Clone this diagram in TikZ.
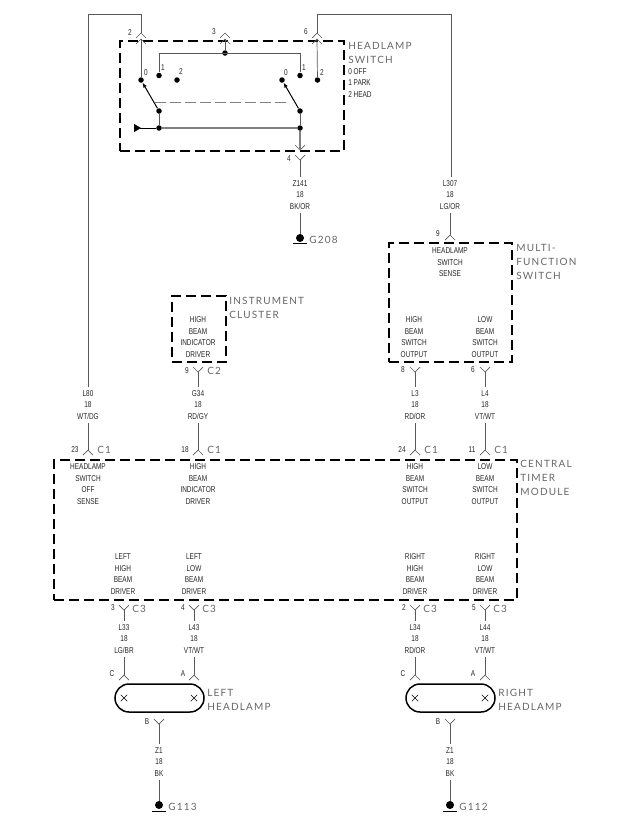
\documentclass[tikz,border=0pt]{standalone}
\usepackage{fontspec}
\setmainfont{Liberation Sans}[FakeStretch=0.76]
\newfontfamily\namefont{Lato}[LetterSpace=12]
\usetikzlibrary{shapes.misc,arrows.meta}
\begin{document}
\begin{tikzpicture}[x=1pt,y=-1pt,line width=0.6pt,
                    box/.style={draw,line width=1.5pt,dash pattern=on 10pt off 5pt,inner sep=0pt},
                    wire/.style={gray!70!black,line width=0.7pt},
                    bar/.style={gray,line width=1.5pt},
                    dot/.style={circle,fill=black,inner sep=0pt,minimum size=5.5pt},
                    txt/.style={align=center,inner sep=3.5pt,text=black!85,font=\fontsize{8.5}{11.5}\selectfont},
                    title/.style={align=left,anchor=north west,inner sep=0pt,text=black!60,font=\namefont\fontsize{10}{14.2}\selectfont},
                    lamp/.style={draw,line width=1.5pt,rounded corners=14pt,minimum width=89pt,minimum height=28pt,inner sep=0pt},
                    xmark/.style={draw,cross out,line width=0.5pt,inner sep=0pt,minimum size=6pt},
                    gnd/.style={circle,fill=black,inner sep=0pt,minimum size=8pt},
                    up/.pic={\draw[wire] (-5,5) -- (0,0) -- (5,5);},
                    down/.pic={\draw[wire] (-5,-5) -- (0,0) -- (5,-5);}]

          \path[use as bounding box] (0,0) rectangle (640,838);

          % boxes
          \node[box,minimum width=224pt,minimum height=110pt] (switchbox) at (232,96) {};
          \node[box,minimum width=123pt,minimum height=119pt] (multibox) at (450.5,302.5) {};
          \node[box,minimum width=54pt,minimum height=66pt] (clusterbox) at (199,329) {};
          \node[box,minimum width=463pt,minimum height=140pt] (timerbox) at (285.5,530) {};
          \node[lamp] (leftlamp) at (159.5,698) {};
          \node[lamp] (rightlamp) at (450.5,698) {};
          \node[xmark] (lx1) at (124,698) {};
          \node[xmark] (lx2) at (194,698) {};
          \node[xmark] (rx1) at (415,698) {};
          \node[xmark] (rx2) at (485,698) {};

          % box names
          \node[title] (n1) at (348,42) {HEADLAMP\\SWITCH};
          \node[txt,align=left,anchor=north west,inner sep=0pt] (n1b) at (348,68) {0 OFF\\1 PARK\\2 HEAD};
          \node[title] (n2) at (516,244) {MULTI-\\FUNCTION\\SWITCH};
          \node[title] (n3) at (229,297) {INSTRUMENT\\CLUSTER};
          \node[title] (n4) at (520,460) {CENTRAL\\TIMER\\MODULE};
          \node[title] (n5) at (207,689) {LEFT\\HEADLAMP};
          \node[title] (n6) at (498,689) {RIGHT\\HEADLAMP};

          % switch contacts
          \node[dot] (a0) at (141,80) {};
          \node[dot] (a1) at (159,75.5) {};
          \node[dot] (a2) at (177,80) {};
          \node[dot] (b0) at (282,80) {};
          \node[dot] (b1) at (300,75.5) {};
          \node[dot] (b2) at (317.5,80) {};
          \node[dot] (am) at (159,111) {};
          \node[dot] (bm) at (300,111) {};
          \node[dot] (al) at (159,128) {};
          \node[dot] (bl) at (300,128) {};
          \node[dot] (top) at (225,53) {};
          \coordinate (tl) at (159,53);
          \coordinate (tr) at (300,53);
          \coordinate (gang1) at (155,102);
          \coordinate (gang2) at (287,102);
          \coordinate (feed) at (134,128);

          \draw[wire] (a1) -- (tl) -- (tr) -- (b1);
          \draw[wire] (am) -- (al);
          \draw[wire] (bm) -- (bl);
          \draw[bar] (al) -- (bl);
          \draw[line width=1pt,-{Latex[length=5pt,width=4pt]}] (am) -- (a0);
          \draw[line width=1pt,-{Latex[length=5pt,width=4pt]}] (bm) -- (b0);
          \draw[gray,line width=0.6pt,dash pattern=on 11pt off 4pt] (gang1) -- (gang2);
          \draw[line width=0.8pt,{Triangle[reversed,length=7pt,width=8pt]}-] (feed) -- (al);

          \node[txt,inner sep=0pt] (t0a) at (146,73) {0};
          \node[txt,inner sep=0pt] (t1a) at (163,68) {1};
          \node[txt,inner sep=0pt] (t2a) at (181,72) {2};
          \node[txt,inner sep=0pt] (t0b) at (286,73) {0};
          \node[txt,inner sep=0pt] (t1b) at (304,68) {1};
          \node[txt,inner sep=0pt] (t2b) at (322,73) {2};

          % switch pins
          \coordinate (p2o) at (141,33);
          \coordinate (p2i) at (141,39);
          \coordinate (p3o) at (225,33);
          \coordinate (p3i) at (225,39);
          \coordinate (p6o) at (317,33);
          \coordinate (p6i) at (317,39);
          \coordinate (p4i) at (300,150);
          \coordinate (p4o) at (300,160);
          \pic at (p2o) {up}; \pic at (p2i) {up};
          \pic at (p3o) {up}; \pic at (p3i) {up};
          \pic at (p6o) {up}; \pic at (p6i) {up};
          \pic at (p4i) {down}; \pic at (p4o) {down};
          \draw[wire] (p2i) -- (a0);
          \draw[wire] (p3i) -- (top);
          \draw[wire] (p6i) -- (b2);
          \draw[bar] (bl) -- (p4i);
          \node[txt,inner sep=0pt] (t2) at (130,33) {2};
          \node[txt,inner sep=0pt] (t3) at (214,32) {3};
          \node[txt,inner sep=0pt] (t6) at (306,32) {6};
          \node[txt,inner sep=0pt] (t4) at (289,159) {4};

          % long wires over the top
          \coordinate (c1) at (88,14);
          \coordinate (c2) at (141,14);
          \coordinate (c3) at (317,14);
          \coordinate (c4) at (451,14);
          \node[txt] (l80) at (88,405) {L80\\18\\WT/DG};
          \node[txt] (l307) at (450,195) {L307\\18\\LG/OR};
          \draw[wire] (l80) -- (c1) -- (c2) -- (p2o);
          \draw[wire] (l307.north -| c4) -- (c4) -- (c3) -- (p6o);

          % ground of the switch
          \node[txt] (z141) at (300,195) {Z141\\18\\BK/OR};
          \node[gnd] (g1) at (300,238) {};
          \coordinate (g1a) at (293,243);
          \coordinate (g1b) at (307,243);
          \draw[wire] (p4o) -- (z141);
          \draw[wire] (z141) -- (g1);
          \draw[line width=1pt] (g1a) -- (g1b);
          \node[title,anchor=west] (g208) at (309,240) {G208};

          % multifunction switch
          \coordinate (p9) at (450,235);
          \pic at (p9) {up};
          \draw[wire] (l307.south -| p9) -- (p9);
          \node[txt,inner sep=0pt] (t9) at (438,234) {9};
          \node[txt] (m1) at (450,262.5) {HEADLAMP\\SWITCH\\SENSE};
          \node[txt] (m2) at (414,337) {HIGH\\BEAM\\SWITCH\\OUTPUT};
          \node[txt] (m3) at (485,337) {LOW\\BEAM\\SWITCH\\OUTPUT};

          % instrument cluster
          \node[txt] (i1) at (198,337) {HIGH\\BEAM\\INDICATOR\\DRIVER};

          % wires in the middle
          \coordinate (y1) at (198,372);
          \coordinate (y2) at (415,372);
          \coordinate (y3) at (485,372);
          \pic at (y1) {down}; \pic at (y2) {down}; \pic at (y3) {down};
          \node[txt] (g34) at (198,405) {G34\\18\\RD/GY};
          \node[txt] (l3) at (415,405) {L3\\18\\RD/OR};
          \node[txt] (l4) at (485,405) {L4\\18\\VT/WT};
          \node[txt,inner sep=0pt] (t9b) at (187,371) {9};
          \node[txt,inner sep=0pt] (t8) at (403,370) {8};
          \node[txt,inner sep=0pt] (t6b) at (473,370) {6};
          \node[title,anchor=west] (c2a) at (207,371) {C2};

          \coordinate (u1) at (88,450);
          \coordinate (u2) at (198,450);
          \coordinate (u3) at (415,450);
          \coordinate (u4) at (485,450);
          \pic at (u1) {up}; \pic at (u2) {up}; \pic at (u3) {up}; \pic at (u4) {up};
          \draw[wire] (y1) -- (g34);
          \draw[wire] (y2) -- (l3);
          \draw[wire] (y3) -- (l4);
          \draw[wire] (l80) -- (u1);
          \draw[wire] (g34) -- (u2);
          \draw[wire] (l3) -- (u3);
          \draw[wire] (l4) -- (u4);
          \node[txt,inner sep=0pt] (t23) at (75,450) {23};
          \node[txt,inner sep=0pt] (t18) at (185,450) {18};
          \node[txt,inner sep=0pt] (t24) at (402,450) {24};
          \node[txt,inner sep=0pt] (t11) at (472,450) {11};
          \node[title,anchor=west] (c1a) at (97,450) {C1};
          \node[title,anchor=west] (c1b) at (207,450) {C1};
          \node[title,anchor=west] (c1c) at (424,450) {C1};
          \node[title,anchor=west] (c1d) at (494,450) {C1};

          % central timer module
          \node[txt] (s1) at (88,484) {HEADLAMP\\SWITCH\\OFF\\SENSE};
          \node[txt] (s2) at (198,484) {HIGH\\BEAM\\INDICATOR\\DRIVER};
          \node[txt] (s3) at (415,484) {HIGH\\BEAM\\SWITCH\\OUTPUT};
          \node[txt] (s4) at (485,484) {LOW\\BEAM\\SWITCH\\OUTPUT};
          \node[txt] (s5) at (123,574) {LEFT\\HIGH\\BEAM\\DRIVER};
          \node[txt] (s6) at (194,574) {LEFT\\LOW\\BEAM\\DRIVER};
          \node[txt] (s7) at (415,574) {RIGHT\\HIGH\\BEAM\\DRIVER};
          \node[txt] (s8) at (485,574) {RIGHT\\LOW\\BEAM\\DRIVER};

          % wires to the lamps
          \coordinate (d1) at (124,610);
          \coordinate (d2) at (194,610);
          \coordinate (d3) at (415,610);
          \coordinate (d4) at (485,610);
          \pic at (d1) {down}; \pic at (d2) {down}; \pic at (d3) {down}; \pic at (d4) {down};
          \node[txt] (l33) at (124,639) {L33\\18\\LG/BR};
          \node[txt] (l43) at (194,639) {L43\\18\\VT/WT};
          \node[txt] (l34) at (415,639) {L34\\18\\RD/OR};
          \node[txt] (l44) at (485,639) {L44\\18\\VT/WT};
          \node[txt,inner sep=0pt] (t3b) at (113,608) {3};
          \node[txt,inner sep=0pt] (t4b) at (183,608) {4};
          \node[txt,inner sep=0pt] (t2b2) at (404,608) {2};
          \node[txt,inner sep=0pt] (t5) at (474,608) {5};
          \node[title,anchor=west] (c3a) at (132,609) {C3};
          \node[title,anchor=west] (c3b) at (202,609) {C3};
          \node[title,anchor=west] (c3c) at (423,609) {C3};
          \node[title,anchor=west] (c3d) at (493,609) {C3};

          \coordinate (e1) at (124,675);
          \coordinate (e2) at (194,675);
          \coordinate (e3) at (415,675);
          \coordinate (e4) at (485,675);
          \pic at (e1) {up}; \pic at (e2) {up}; \pic at (e3) {up}; \pic at (e4) {up};
          \draw[wire] (d1) -- (l33);
          \draw[wire] (d2) -- (l43);
          \draw[wire] (d3) -- (l34);
          \draw[wire] (d4) -- (l44);
          \draw[wire] (l33) -- (e1);
          \draw[wire] (l43) -- (e2);
          \draw[wire] (l34) -- (e3);
          \draw[wire] (l44) -- (e4);
          \node[txt,inner sep=0pt] (tc) at (112,674) {C};
          \node[txt,inner sep=0pt] (ta) at (183,674) {A};
          \node[txt,inner sep=0pt] (tc2) at (403,674) {C};
          \node[txt,inner sep=0pt] (ta2) at (473,674) {A};

          % lamp grounds
          \coordinate (f1) at (159,724);
          \coordinate (f2) at (450,724);
          \pic at (f1) {down}; \pic at (f2) {down};
          \node[txt,inner sep=0pt] (tb) at (147,722) {B};
          \node[txt,inner sep=0pt] (tb2) at (438,722) {B};
          \node[txt] (z1a) at (159,762) {Z1\\18\\BK};
          \node[txt] (z1b) at (450,762) {Z1\\18\\BK};
          \node[gnd] (g2) at (159,805) {};
          \node[gnd] (g3) at (450,805) {};
          \coordinate (g2a) at (152,811);
          \coordinate (g2b) at (166,811);
          \coordinate (g3a) at (443,811);
          \coordinate (g3b) at (457,811);
          \draw[wire] (f1) -- (z1a);
          \draw[wire] (f2) -- (z1b);
          \draw[wire] (z1a) -- (g2);
          \draw[wire] (z1b) -- (g3);
          \draw[line width=1pt] (g2a) -- (g2b);
          \draw[line width=1pt] (g3a) -- (g3b);
          \node[title,anchor=west] (g113) at (168,807) {G113};
          \node[title,anchor=west] (g112) at (459,807) {G112};

        \end{tikzpicture}
\end{document}
